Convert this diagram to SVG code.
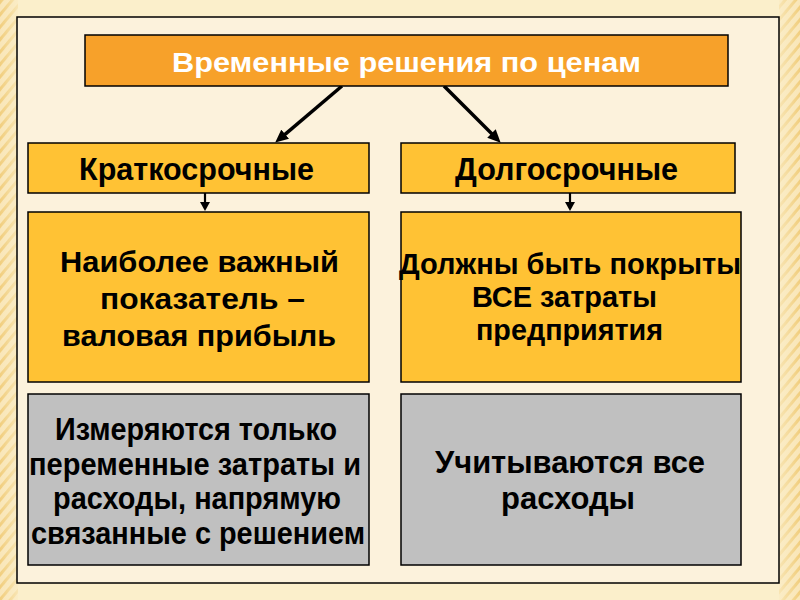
<svg xmlns="http://www.w3.org/2000/svg" width="800" height="600" viewBox="0 0 800 600">
  <style>
    .t { font-family: "Liberation Sans", Arial, "Noto Sans", sans-serif; font-weight: bold; fill: #000; }
    .w { fill: #fff; }
    .box { stroke: #000; stroke-width: 1.5; }
    .orange { fill: #F7A12A; }
    .gold { fill: #FFC234; }
    .gray { fill: #C0C0C0; }
    .conn { stroke: #000; fill: none; }
  </style>
  <defs>
    <pattern id="stripes" width="8" height="8" patternUnits="userSpaceOnUse" patternTransform="rotate(40)">
      <rect width="8" height="8" fill="#F9E6B8"/>
      <rect width="3" height="8" fill="#F1CE7E"/>
    </pattern>
    <linearGradient id="fadeL" x1="0" y1="0" x2="1" y2="0">
      <stop offset="0" stop-color="#FBEFCB" stop-opacity="0"/>
      <stop offset="1" stop-color="#FBEFCB" stop-opacity="0.7"/>
    </linearGradient>
    <linearGradient id="fadeR" x1="1" y1="0" x2="0" y2="0">
      <stop offset="0" stop-color="#FBEFCB" stop-opacity="0"/>
      <stop offset="1" stop-color="#FBEFCB" stop-opacity="0.7"/>
    </linearGradient>
    <marker id="big" markerUnits="userSpaceOnUse" markerWidth="14" markerHeight="12" refX="4" refY="6" orient="auto">
      <path d="M0,0 L13,6 L0,12 z" fill="#000"/>
    </marker>
    <marker id="small" markerUnits="userSpaceOnUse" markerWidth="10" markerHeight="10" refX="1" refY="5" orient="auto">
      <path d="M0,0 L9,5 L0,10 z" fill="#000"/>
    </marker>
  </defs>

  <!-- background -->
  <rect x="0" y="0" width="800" height="600" fill="#FBEFCB"/>
  <rect x="0" y="0" width="18" height="600" fill="url(#stripes)"/>
  <rect x="0" y="0" width="18" height="600" fill="url(#fadeL)"/>
  <rect x="779" y="0" width="21" height="600" fill="url(#stripes)"/>
  <rect x="779" y="0" width="21" height="600" fill="url(#fadeR)"/>
  <rect x="17" y="17" width="762" height="566" fill="#FCF2DC" stroke="#000" stroke-width="1.5"/>

  <!-- connectors -->
  <g id="connectors">
    <line class="conn" x1="342" y1="86" x2="282.1" y2="136.8" stroke-width="3.5" marker-end="url(#big)"/>
    <line class="conn" x1="444" y1="86" x2="494.3" y2="136.3" stroke-width="3.5" marker-end="url(#big)"/>
    <line class="conn" x1="205" y1="193" x2="205" y2="203" stroke-width="2.2" marker-end="url(#small)"/>
    <line class="conn" x1="570" y1="193" x2="570" y2="203" stroke-width="2.2" marker-end="url(#small)"/>
  </g>

  <g id="title">
    <rect class="box orange" x="85" y="35" width="643" height="51"/>
    <text class="t w" x="172" y="72" font-size="28" textLength="469" lengthAdjust="spacingAndGlyphs">Временные решения по ценам</text>
  </g>

  <g id="short">
    <rect class="box gold" x="28" y="143" width="341" height="50"/>
    <text class="t" x="79" y="180" font-size="31" textLength="235" lengthAdjust="spacingAndGlyphs">Краткосрочные</text>
  </g>

  <g id="long">
    <rect class="box gold" x="401" y="143" width="334" height="50"/>
    <text class="t" x="455" y="180" font-size="31" textLength="223" lengthAdjust="spacingAndGlyphs">Долгосрочные</text>
  </g>

  <g id="short-indicator">
    <rect class="box gold" x="28" y="212" width="341" height="170"/>
    <text class="t" x="60" y="272" font-size="30" textLength="279" lengthAdjust="spacingAndGlyphs">Наиболее  важный</text>
    <text class="t" x="100" y="309" font-size="30" textLength="205" lengthAdjust="spacingAndGlyphs">показатель –</text>
    <text class="t" x="62" y="346" font-size="30" textLength="274" lengthAdjust="spacingAndGlyphs">валовая прибыль</text>
  </g>

  <g id="long-indicator">
    <rect class="box gold" x="401" y="212" width="340" height="170"/>
    <text class="t" x="399" y="274" font-size="29" textLength="342" lengthAdjust="spacingAndGlyphs">Должны быть покрыты</text>
    <text class="t" x="472" y="307" font-size="29" textLength="185" lengthAdjust="spacingAndGlyphs">ВСЕ затраты</text>
    <text class="t" x="476" y="340" font-size="29" textLength="187" lengthAdjust="spacingAndGlyphs">предприятия</text>
  </g>

  <g id="short-costs">
    <rect class="box gray" x="28" y="394" width="341" height="171"/>
    <text class="t" x="55" y="440" font-size="32" textLength="282" lengthAdjust="spacingAndGlyphs">Измеряются только</text>
    <text class="t" x="29" y="475" font-size="32" textLength="332" lengthAdjust="spacingAndGlyphs">переменные затраты и</text>
    <text class="t" x="53" y="509" font-size="32" textLength="288" lengthAdjust="spacingAndGlyphs">расходы, напрямую</text>
    <text class="t" x="31" y="544" font-size="32" textLength="334" lengthAdjust="spacingAndGlyphs">связанные с решением</text>
  </g>

  <g id="long-costs">
    <rect class="box gray" x="401" y="394" width="340" height="171"/>
    <text class="t" x="435" y="473" font-size="31" textLength="270" lengthAdjust="spacingAndGlyphs">Учитываются  все</text>
    <text class="t" x="501" y="509" font-size="31" textLength="134" lengthAdjust="spacingAndGlyphs">расходы</text>
  </g>
</svg>
